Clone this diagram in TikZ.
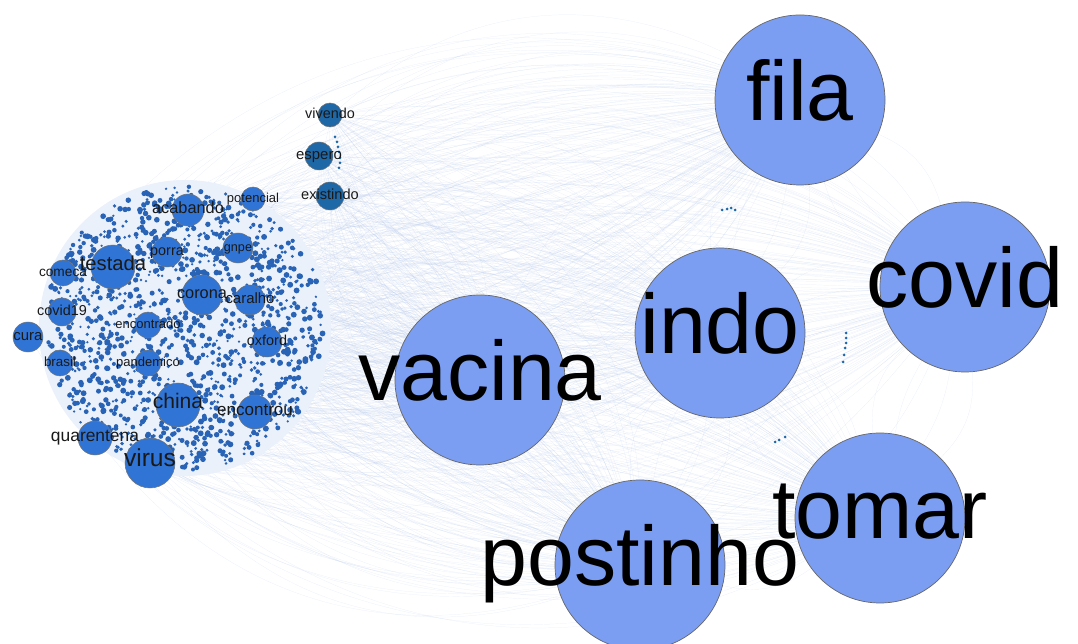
\documentclass[tikz,border=0pt]{standalone}
\usepackage{fontspec}
\setmainfont{Liberation Sans}
\usetikzlibrary{backgrounds}
\definecolor{bigblue}{RGB}{123,158,242}
\definecolor{midblue}{RGB}{48,117,214}
\definecolor{darkteal}{RGB}{30,104,168}
\definecolor{edgeblue}{RGB}{175,195,232}
\tikzset{
  bignode/.style={circle, draw=black!60, line width=0.4pt, fill=bigblue, minimum size=170*0.02cm, inner sep=0pt},
  bigword/.style={font=\fontsize{48}{48}\selectfont, text height=23pt, text depth=0pt, inner sep=0pt},
  wordnode/.style={circle, draw=black!55, line width=0.3pt, fill=midblue, inner sep=0pt},
  topnode/.style={wordnode, fill=darkteal},
  word/.style={font=\fontsize{#1}{#1}\selectfont, text height=4pt, text depth=0pt, inner sep=0pt, text=black!90},
  edge/.style={draw=edgeblue, line width=0.12pt, opacity=0.3},
}

\begin{document}
\begin{tikzpicture}[x=0.02cm, y=-0.02cm]

        \useasboundingbox (0,0) rectangle (1078,644);

        % word nodes of the left cluster
        \foreach \n/\x/\y/\r/\s in {acabando/188/210/16/9.3, potencial/253/199/12/7.4,
            testada/113/267/22/11.5, porra/167/252/15/8.2, gnpe/238/248/15/7.2,
            comeca/63/273/13/7.8, covid19/62/312/14/8.2, cura/28/337/15/8.5,
            brasil/60/363/13/7.6, corona/202/295/20/9.3, caralho/250/300/15/8.5,
            encontrado/148/325/13/7.4, oxford/267/342/15/8.2, pandemico/148/363/13/7.4,
            china/178/405/22/12, encontrou/255/412/17/9.7, quarentena/95/438/17/9.9,
            virus/150/463/25/14}
            \node[wordnode, minimum size=\r*0.04cm, label={[word=\s]center:\n}] (\n) at (\x,\y) {};

        \foreach \n/\x/\y/\r/\s in {vivendo/330/115/12/8.2, espero/319/156/14/8.5, existindo/330/196/14/8.3}
            \node[topnode, minimum size=\r*0.04cm, label={[word=\s]center:\n}] (\n) at (\x,\y) {};

        % big nodes
        \node[bignode, label={[bigword]center:fila}] (fila) at (800,100) {};
        \node[bignode, label={[bigword]center:covid}] (covid) at (965,287) {};
        \node[bignode, label={[bigword]center:indo}] (indo) at (720,333) {};
        \node[bignode, label={[bigword]center:vacina}] (vacina) at (480,380) {};
        \node[bignode, label={[bigword]center:tomar}] (tomar) at (880,518) {};
        \node[bignode, label={[bigword]center:postinho}] (postinho) at (640,565) {};

        \begin{pgfonlayer}{background}
            % edges
            \foreach \a in {acabando,potencial,testada,porra,gnpe,comeca,covid19,cura,brasil,corona,
                caralho,encontrado,oxford,pandemico,china,encontrou,quarentena,virus,vivendo,espero,existindo}
                \foreach \b in {fila,covid,indo,vacina,tomar,postinho}
                    \foreach \t in {8,20,34}
                    {
                        \draw[edge] (\a) to[bend left=\t] (\b);
                        \draw[edge] (\a) to[bend right=\t] (\b);
                    }
            \foreach \a/\b in {fila/covid, fila/indo, fila/vacina, covid/indo, covid/tomar, indo/vacina,
                indo/tomar, indo/postinho, vacina/postinho, tomar/postinho, vacina/tomar, covid/postinho}
                \foreach \t in {10,25}
                {
                    \draw[edge] (\a) to[bend left=\t] (\b);
                    \draw[edge] (\a) to[bend right=\t] (\b);
                }

            % small word dots
            \fill[midblue!10] (185,328) ellipse (146 and 148);
            \pgfmathsetseed{2021}
            \foreach \i in {1,...,1400}
            {
                \pgfmathsetmacro\ang{360*rnd}
                \pgfmathsetmacro\rad{sqrt(rnd)}
                \pgfmathsetmacro\dx{185+140*\rad*cos(\ang)}
                \pgfmathsetmacro\dy{328+143*\rad*sin(\ang)}
                \pgfmathsetmacro\ds{1.2+1.8*rnd}
                \fill[midblue!85!black] (\dx,\dy) circle (\ds);
            }
            \foreach \x/\y in {335/137, 337/142, 338/147, 339/152, 340/158, 340/163, 339/168,
                722/210, 727/209, 731/208, 735/210, 846/333, 846/338, 846/343, 845/348, 844/355,
                843/362, 775/442, 779/440, 785/437}
                \fill[darkteal] (\x,\y) circle (1.5);
        \end{pgfonlayer}

    \end{tikzpicture}
\end{document}
